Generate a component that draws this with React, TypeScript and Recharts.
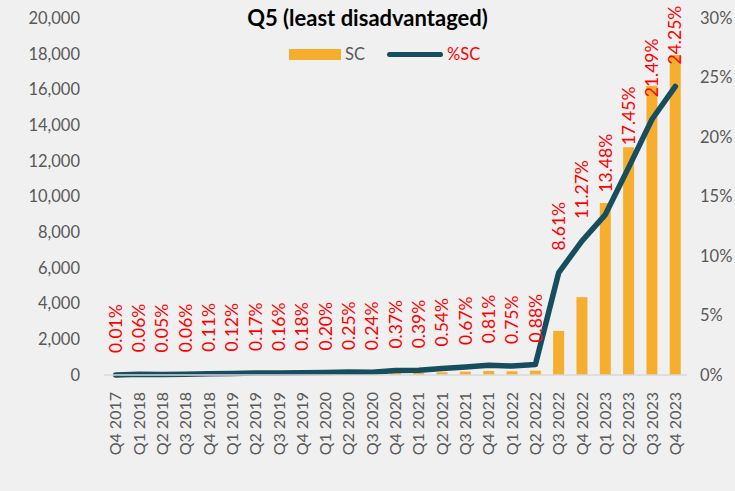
import React from 'react';
import {
  ComposedChart,
  Bar,
  Line,
  XAxis,
  YAxis,
  LabelList,
} from 'recharts';

const quarters = [
  'Q4 2017', 'Q1 2018', 'Q2 2018', 'Q3 2018', 'Q4 2018', 'Q1 2019', 'Q2 2019',
  'Q3 2019', 'Q4 2019', 'Q1 2020', 'Q2 2020', 'Q3 2020', 'Q4 2020', 'Q1 2021',
  'Q2 2021', 'Q3 2021', 'Q4 2021', 'Q1 2022', 'Q2 2022', 'Q3 2022', 'Q4 2022',
  'Q1 2023', 'Q2 2023', 'Q3 2023', 'Q4 2023',
];

const scCounts = [
  3, 17, 14, 17, 31, 34, 48, 45, 50, 56, 70, 67, 104, 109, 151, 188, 227, 210,
  246, 2470, 4360, 9640, 12760, 16200, 17930,
];

const scPercent = [
  0.01, 0.06, 0.05, 0.06, 0.11, 0.12, 0.17, 0.16, 0.18, 0.2, 0.25, 0.24, 0.37,
  0.39, 0.54, 0.67, 0.81, 0.75, 0.88, 8.61, 11.27, 13.48, 17.45, 21.49, 24.25,
];

const leftTicks = [0, 2000, 4000, 6000, 8000, 10000, 12000, 14000, 16000, 18000, 20000];
const rightTicks = [0, 5, 10, 15, 20, 25, 30];

const data = quarters.map((q, i) => ({ q, sc: scCounts[i], pct: scPercent[i] }));

const FONT = 'Lato, "Open Sans", sans-serif';
const BAR_COLOR = '#F5AE2E';
const LINE_COLOR = '#174E5F';
const GREY = '#595959';

const QuarterTick = (props: any) => {
  const { x, y, payload } = props;
  return (
    <g transform={`translate(${x},${y + 9})`}>
      <text
        transform="rotate(-90)"
        textAnchor="end"
        dy="0.35em"
        fill={GREY}
        fontSize={16}
        fontFamily={FONT}
      >
        {payload.value}
      </text>
    </g>
  );
};

const PctLabel = (props: any) => {
  const { x, y, value } = props;
  return (
    <text
      transform={`translate(${x},${y - 22}) rotate(-90)`}
      textAnchor="start"
      dy="0.35em"
      fill="#FF0000"
      fontSize={17.5}
      fontFamily={FONT}
    >
      {Number(value).toFixed(2)}%
    </text>
  );
};

export default function App() {
  return (
    <div style={{ position: 'absolute', left: 0, top: 0, width: 735, height: 491, background: '#F0F0F0' }}>
      <div
        style={{
          position: 'absolute',
          left: 0,
          top: 4,
          width: 735,
          textAlign: 'center',
          fontFamily: FONT,
          fontWeight: 700,
          fontSize: 22,
          color: '#000',
        }}
      >
        Q5 (least disadvantaged)
      </div>
      {/* legend */}
      <div style={{ position: 'absolute', left: 0, top: 46, width: 735, height: 20, fontFamily: FONT, fontSize: 16.5 }}>
        <div style={{ position: 'absolute', left: 289, top: 3, width: 52, height: 11, background: BAR_COLOR }} />
        <span style={{ position: 'absolute', left: 345, top: -2, color: GREY }}>SC</span>
        <div style={{ position: 'absolute', left: 387, top: 6, width: 56, height: 5, borderRadius: 3, background: LINE_COLOR }} />
        <span style={{ position: 'absolute', left: 447, top: -2, color: '#FF0000' }}>%SC</span>
      </div>
      <ComposedChart
        width={735}
        height={491}
        data={data}
        margin={{ top: 18, right: 0, bottom: 41, left: 0 }}
        barCategoryGap="26%"
      >
        <XAxis
          dataKey="q"
          interval={0}
          height={75}
          tick={<QuarterTick />}
          tickLine={false}
          axisLine={{ stroke: '#D9D9D9', strokeWidth: 1.5 }}
        />
        <YAxis
          yAxisId="left"
          width={104}
          domain={[0, 20000]}
          ticks={leftTicks}
          tickFormatter={(v: number) => v.toLocaleString('en-US')}
          tick={{ fill: GREY, fontSize: 16.5, fontFamily: FONT }}
          tickLine={false}
          axisLine={false}
          tickSize={0}
          tickMargin={24}
        />
        <YAxis
          yAxisId="right"
          orientation="right"
          width={48}
          domain={[0, 30]}
          ticks={rightTicks}
          tickFormatter={(v: number) => `${v}%`}
          tick={{ fill: GREY, fontSize: 16.5, fontFamily: FONT, textAnchor: 'start' }}
          tickLine={false}
          axisLine={false}
          tickSize={0}
          tickMargin={13}
        />
        <Bar yAxisId="left" dataKey="sc" name="SC" fill={BAR_COLOR} isAnimationActive={false} />
        <Line
          yAxisId="right"
          dataKey="pct"
          name="%SC"
          type="linear"
          stroke={LINE_COLOR}
          strokeWidth={5.5}
          strokeLinecap="round"
          strokeLinejoin="round"
          dot={false}
          activeDot={false}
          isAnimationActive={false}
        >
          <LabelList dataKey="pct" content={<PctLabel />} />
        </Line>
      </ComposedChart>
    </div>
  );
}
